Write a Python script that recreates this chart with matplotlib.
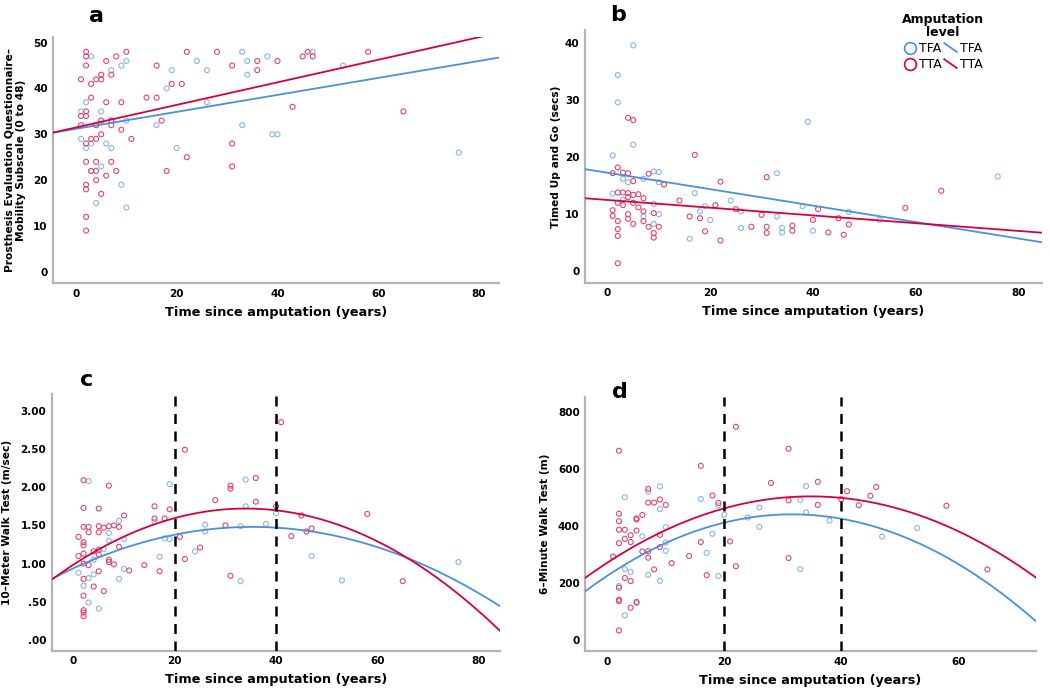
import numpy             as np
import matplotlib
matplotlib.use('Agg')
import matplotlib.pyplot as plt
from matplotlib.lines          import Line2D
from matplotlib.legend_handler import HandlerBase
from matplotlib.ticker         import FuncFormatter

# Colours
tfa_point = '#8ab4ec'
tta_point = '#e2466e'
tfa_line  = '#4b8fe2'
tta_line  = '#d8003c'
spine_col = '#b4b4b4'

ticksize   = 7.5
xlabelsize = 9.3
ylabelsize = 7.7

# ---------------- data ----------------
# a: PEQ-MS vs time since amputation
a_tta_x = [2, 2, 2, 10, 8, 6, 1, 3, 4, 5,
           5, 7, 16, 22, 28, 31, 36, 36, 40, 19,
           21, 14, 16, 3, 6, 9, 1, 2, 2, 1,
           5, 7, 7, 4, 9, 11, 3, 4, 5, 17,
           2, 2, 4, 7, 3, 4, 8, 6, 4, 2,
           2, 5, 2, 2, 18, 22, 31, 31, 43, 45,
           46, 47, 58, 65]
a_tta_y = [48, 47, 45, 48, 47, 46, 42, 41, 42, 43,
           42, 43, 45, 48, 48, 45, 46, 44, 46, 41,
           41, 38, 38, 38, 37, 37, 34, 35, 34, 32,
           33, 33, 32, 32, 31, 29, 29, 29, 30, 33,
           28, 24, 24, 24, 22, 22, 22, 21, 20, 19,
           18, 17, 12, 9, 22, 25, 28, 23, 36, 47,
           48, 47, 48, 35]
a_tfa_x = [3, 10, 9, 7, 19, 24, 26, 33, 34, 34,
           38, 18, 2, 26, 1, 5, 4, 7, 10, 16,
           33, 1, 2, 3, 6, 7, 20, 39, 40, 3,
           5, 9, 4, 10, 47, 53, 76]
a_tfa_y = [47, 46, 45, 44, 44, 46, 44, 48, 46, 43,
           47, 40, 37, 37, 35, 35, 32, 33, 33, 32,
           32, 29, 27, 28, 28, 27, 27, 30, 30, 22,
           23, 19, 15, 14, 48, 45, 26]

# b: Timed Up and Go
b_tta_x = [2, 1, 3, 4, 8, 4, 5, 5, 2, 3,
           4, 5, 6, 4, 7, 2, 3, 5, 6, 1,
           1, 2, 2, 2, 2, 4, 4, 5, 7, 7,
           8, 9, 10, 9, 9, 11, 14, 16, 17, 18,
           19, 21, 22, 22, 25, 28, 30, 31, 31, 31,
           36, 36, 40, 41, 43, 45, 46, 47, 58, 65]
b_tta_y = [18.1, 17.1, 17.2, 17.1, 17.0, 26.8, 26.4, 15.7, 13.7, 13.7,
           13.6, 13.3, 13.4, 12.9, 12.7, 11.9, 11.5, 11.9, 11.1, 10.6,
           9.6, 8.7, 7.3, 6.1, 1.3, 9.9, 9.1, 8.2, 10.4, 8.7,
           7.7, 10.1, 7.7, 6.6, 5.8, 15.1, 12.3, 9.5, 20.3, 9.2,
           6.9, 11.5, 15.6, 5.3, 10.8, 7.7, 9.8, 16.4, 7.7, 6.6,
           7.9, 7.0, 8.9, 10.8, 6.7, 9.2, 6.3, 8.1, 11.0, 14.0]
b_tfa_x = [5, 2, 2, 5, 1, 1, 3, 4, 7, 9,
           10, 10, 9, 3, 10, 9, 7, 17, 19, 18,
           20, 16, 24, 26, 26, 33, 33, 34, 34, 39,
           38, 40, 47, 53, 76]
b_tfa_y = [39.5, 34.3, 29.5, 22.1, 20.2, 13.5, 16.1, 15.5, 16.1, 17.4,
           17.3, 15.5, 11.7, 12.4, 9.9, 8.2, 9.5, 13.6, 11.3, 10.4,
           8.9, 5.6, 12.3, 10.4, 7.5, 17.1, 9.5, 7.5, 6.7, 26.1,
           11.3, 7.0, 10.3, 8.9, 16.5]

# c: 10-Meter Walk Test
c_tta_x = [2, 2, 2, 1, 2, 2, 2, 1, 2, 2,
           2, 2, 2, 2, 3, 3, 3, 4, 4, 5,
           5, 5, 5, 5, 5, 6, 6, 7, 7, 7,
           7, 8, 8, 9, 9, 10, 11, 14, 16, 16,
           17, 18, 19, 21, 22, 22, 25, 28, 30, 31,
           31, 31, 36, 36, 40, 41, 43, 45, 46, 47,
           58, 65]
c_tta_y = [2.09, 1.73, 1.48, 1.35, 1.28, 1.24, 1.13, 1.10, 1.00, 0.80,
           0.58, 0.39, 0.36, 0.31, 1.48, 1.41, 0.98, 1.16, 0.70, 1.72,
           1.49, 1.41, 1.18, 1.12, 0.90, 1.47, 0.64, 2.02, 1.49, 1.05,
           1.02, 1.50, 0.99, 1.48, 1.22, 1.63, 0.91, 0.98, 1.75, 1.59,
           0.90, 1.59, 1.71, 1.35, 2.49, 1.06, 1.21, 1.83, 1.50, 2.02,
           1.98, 0.84, 2.12, 1.81, 1.75, 2.85, 1.36, 1.63, 1.42, 1.46,
           1.65, 0.77]
c_tfa_x = [3, 1, 2, 3, 3, 4, 5, 4, 6, 7,
           7, 9, 10, 10, 9, 17, 16, 18, 19, 19,
           24, 26, 26, 33, 33, 34, 34, 38, 40, 47,
           53, 76]
c_tfa_y = [2.08, 0.88, 0.71, 0.81, 0.49, 0.86, 0.41, 1.05, 1.19, 1.40,
           1.30, 1.56, 1.32, 0.93, 0.80, 1.09, 1.55, 1.33, 1.32, 2.04,
           1.16, 1.51, 1.42, 1.49, 0.77, 2.10, 1.75, 1.52, 1.66, 1.10,
           0.78, 1.02]

# d: 6-Minute Walk Test
d_tta_x = [2, 2, 2, 2, 2, 2, 2, 2, 2, 1,
           3, 3, 3, 4, 4, 4, 4, 5, 5, 5,
           5, 6, 6, 7, 7, 7, 7, 8, 8, 9,
           9, 9, 10, 11, 14, 16, 16, 17, 18, 19,
           21, 22, 22, 28, 31, 31, 31, 36, 36, 40,
           41, 43, 45, 46, 58, 65]
d_tta_y = [664, 443, 417, 387, 340, 184, 142, 137, 34, 293,
           387, 355, 218, 368, 344, 207, 114, 427, 423, 384,
           134, 439, 311, 530, 482, 312, 289, 482, 248, 493,
           369, 326, 474, 270, 295, 611, 344, 228, 507, 481,
           346, 748, 259, 551, 671, 490, 288, 555, 474, 494,
           522, 473, 506, 537, 471, 248]
d_tfa_x = [3, 2, 3, 4, 3, 5, 6, 7, 7, 9,
           9, 9, 10, 10, 10, 16, 17, 18, 19, 19,
           20, 24, 26, 26, 33, 33, 34, 34, 38, 47,
           53]
d_tfa_y = [501, 190, 249, 239, 87, 130, 364, 521, 229, 539,
           460, 208, 396, 342, 313, 495, 306, 373, 472, 225,
           439, 430, 465, 397, 492, 249, 540, 448, 419, 363,
           393]

# Fitted lines
a_fit = {'TFA': (0.185, 31.2), 'TTA': (0.246, 31.5)}        # slope, intercept
b_fit = {'TFA': (-0.144, 17.17), 'TTA': (-0.0678, 12.4)}
c_fit = {'TFA': (35.3, 1.48, 0.000434), 'TTA': (34.0, 1.72, 0.000635)}  # vertex x, vertex y, curvature
d_fit = {'TFA': (31.6, 441.0, 0.2155), 'TTA': (34.8, 504.0, 0.192)}


class DiagHandler(HandlerBase):
    """Draws the fit-line legend entry as a short diagonal stroke."""
    def create_artists(self, legend, orig_handle, xdescent, ydescent,
                       width, height, fontsize, trans):
        line = Line2D([-xdescent, -xdescent + width], [height - ydescent, -ydescent],
                      color=orig_handle.get_color(), lw=orig_handle.get_linewidth(),
                      transform=trans)
        return [line]


def style_axes(ax, xlim, ylim, xticks, yticks, ylabel, ypad):
    ax.set_xlim(*xlim)
    ax.set_ylim(*ylim)
    ax.set_xticks(xticks)
    ax.set_yticks(yticks)
    for side in ['top', 'right']:
        ax.spines[side].set_visible(False)
    for side in ['left', 'bottom']:
        ax.spines[side].set_color(spine_col)
        ax.spines[side].set_linewidth(1.6)
    ax.tick_params(length=0, labelsize=ticksize, pad=4)
    for lab in ax.get_xticklabels() + ax.get_yticklabels():
        lab.set_fontweight('bold')
    ax.set_xlabel('Time since amputation (years)', fontsize=xlabelsize, fontweight='bold', labelpad=5)
    ax.set_ylabel(ylabel, fontsize=ylabelsize, fontweight='bold', labelpad=ypad)


def scatter_groups(ax, tfa_x, tfa_y, tta_x, tta_y):
    ax.scatter(tfa_x, tfa_y, s=13, facecolors='none', edgecolors=tfa_point, linewidths=0.8, zorder=3)
    ax.scatter(tta_x, tta_y, s=13, facecolors='none', edgecolors=tta_point, linewidths=0.8, zorder=3)


fig = plt.figure(figsize=(10.5, 6.92), dpi=100)
ax_a = fig.add_axes([0.0508, 0.5906, 0.4245, 0.3564])
ax_b = fig.add_axes([0.5571, 0.5915, 0.4352, 0.3652])
ax_c = fig.add_axes([0.0492, 0.0597, 0.4270, 0.3710])
ax_d = fig.add_axes([0.5574, 0.0592, 0.4292, 0.3670])

# Panel a
scatter_groups(ax_a, a_tfa_x, a_tfa_y, a_tta_x, a_tta_y)
xs = np.linspace(-4.5, 84, 50)
for key, col in [('TFA', tfa_line), ('TTA', tta_line)]:
    m, q = a_fit[key]
    ax_a.plot(xs, m * xs + q, color=col, lw=1.3, zorder=4)
style_axes(ax_a, (-4.5, 84), (-2.5, 51.3), [0, 20, 40, 60, 80], [0, 10, 20, 30, 40, 50],
           'Prosthesis Evaluation Questionnaire\u2013\nMobility Subscale (0 to 48)', 5)

# Panel b
scatter_groups(ax_b, b_tfa_x, b_tfa_y, b_tta_x, b_tta_y)
xs = np.linspace(-4.4, 84.6, 50)
for key, col in [('TFA', tfa_line), ('TTA', tta_line)]:
    m, q = b_fit[key]
    ax_b.plot(xs, m * xs + q, color=col, lw=1.3, zorder=4)
style_axes(ax_b, (-4.4, 84.6), (-2.1, 42.2), [0, 20, 40, 60, 80], [0, 10, 20, 30, 40],
           'Timed Up and Go (secs)', 3)

# Panel c
scatter_groups(ax_c, c_tfa_x, c_tfa_y, c_tta_x, c_tta_y)
xs = np.linspace(-4.3, 84.2, 200)
for key, col in [('TFA', tfa_line), ('TTA', tta_line)]:
    h, k, cu = c_fit[key]
    ax_c.plot(xs, k - cu * (xs - h) ** 2, color=col, lw=1.3, zorder=4)
for xv in [20, 40]:
    ax_c.axvline(xv, color='black', lw=1.8, ls=(0, (4, 3)), zorder=5)
style_axes(ax_c, (-4.3, 84.2), (-0.14, 3.22), [0, 20, 40, 60, 80],
           [0, 0.5, 1.0, 1.5, 2.0, 2.5, 3.0], '10\u2013Meter Walk Test (m/sec)', 6)
ax_c.yaxis.set_major_formatter(FuncFormatter(lambda v, _: f'{v:.2f}'.lstrip('0')))

# Panel d
scatter_groups(ax_d, d_tfa_x, d_tfa_y, d_tta_x, d_tta_y)
xs = np.linspace(-3.76, 73.3, 200)
for key, col in [('TFA', tfa_line), ('TTA', tta_line)]:
    h, k, cu = d_fit[key]
    ax_d.plot(xs, k - cu * (xs - h) ** 2, color=col, lw=1.3, zorder=4)
for xv in [20, 40]:
    ax_d.axvline(xv, color='black', lw=1.8, ls=(0, (4, 3)), zorder=5)
style_axes(ax_d, (-3.76, 73.3), (-38, 852), [0, 20, 40, 60], [0, 200, 400, 600, 800],
           '6\u2013Minute Walk Test (m)', 6)

# Panel letters
for txt, x, y in [('a', 97, 16), ('b', 618, 15), ('c', 87, 380), ('d', 620, 392)]:
    fig.text(x / 1050, 1 - y / 692, txt, fontsize=16, fontweight='bold', ha='center', va='center')

# Legend
h_tfa_pt = Line2D([], [], ls='none', marker='o', ms=8.5, mfc='none', mec=tfa_line, mew=1.2)
h_tta_pt = Line2D([], [], ls='none', marker='o', ms=8.5, mfc='none', mec=tta_line, mew=1.2)
h_tfa_ln = Line2D([], [], color=tfa_line, lw=1.3)
h_tta_ln = Line2D([], [], color=tta_line, lw=1.3)
leg = fig.legend([h_tfa_pt, h_tta_pt, h_tfa_ln, h_tta_ln], ['TFA', 'TTA', 'TFA', 'TTA'],
                 ncol=2, loc='upper center', bbox_to_anchor=(943 / 1050, 1 - 4 / 692),
                 frameon=False, title='Amputation\nlevel', fontsize=9,
                 handlelength=1.0, handletextpad=0.25, columnspacing=0.2,
                 labelspacing=0.25, borderpad=0.2,
                 handler_map={h_tfa_ln: DiagHandler(), h_tta_ln: DiagHandler()})
leg.get_title().set_fontweight('bold')
leg.get_title().set_fontsize(9)
leg.get_title().set_multialignment('center')
leg.get_title().set_linespacing(1.0)

fig.savefig('out.png', dpi=100)
